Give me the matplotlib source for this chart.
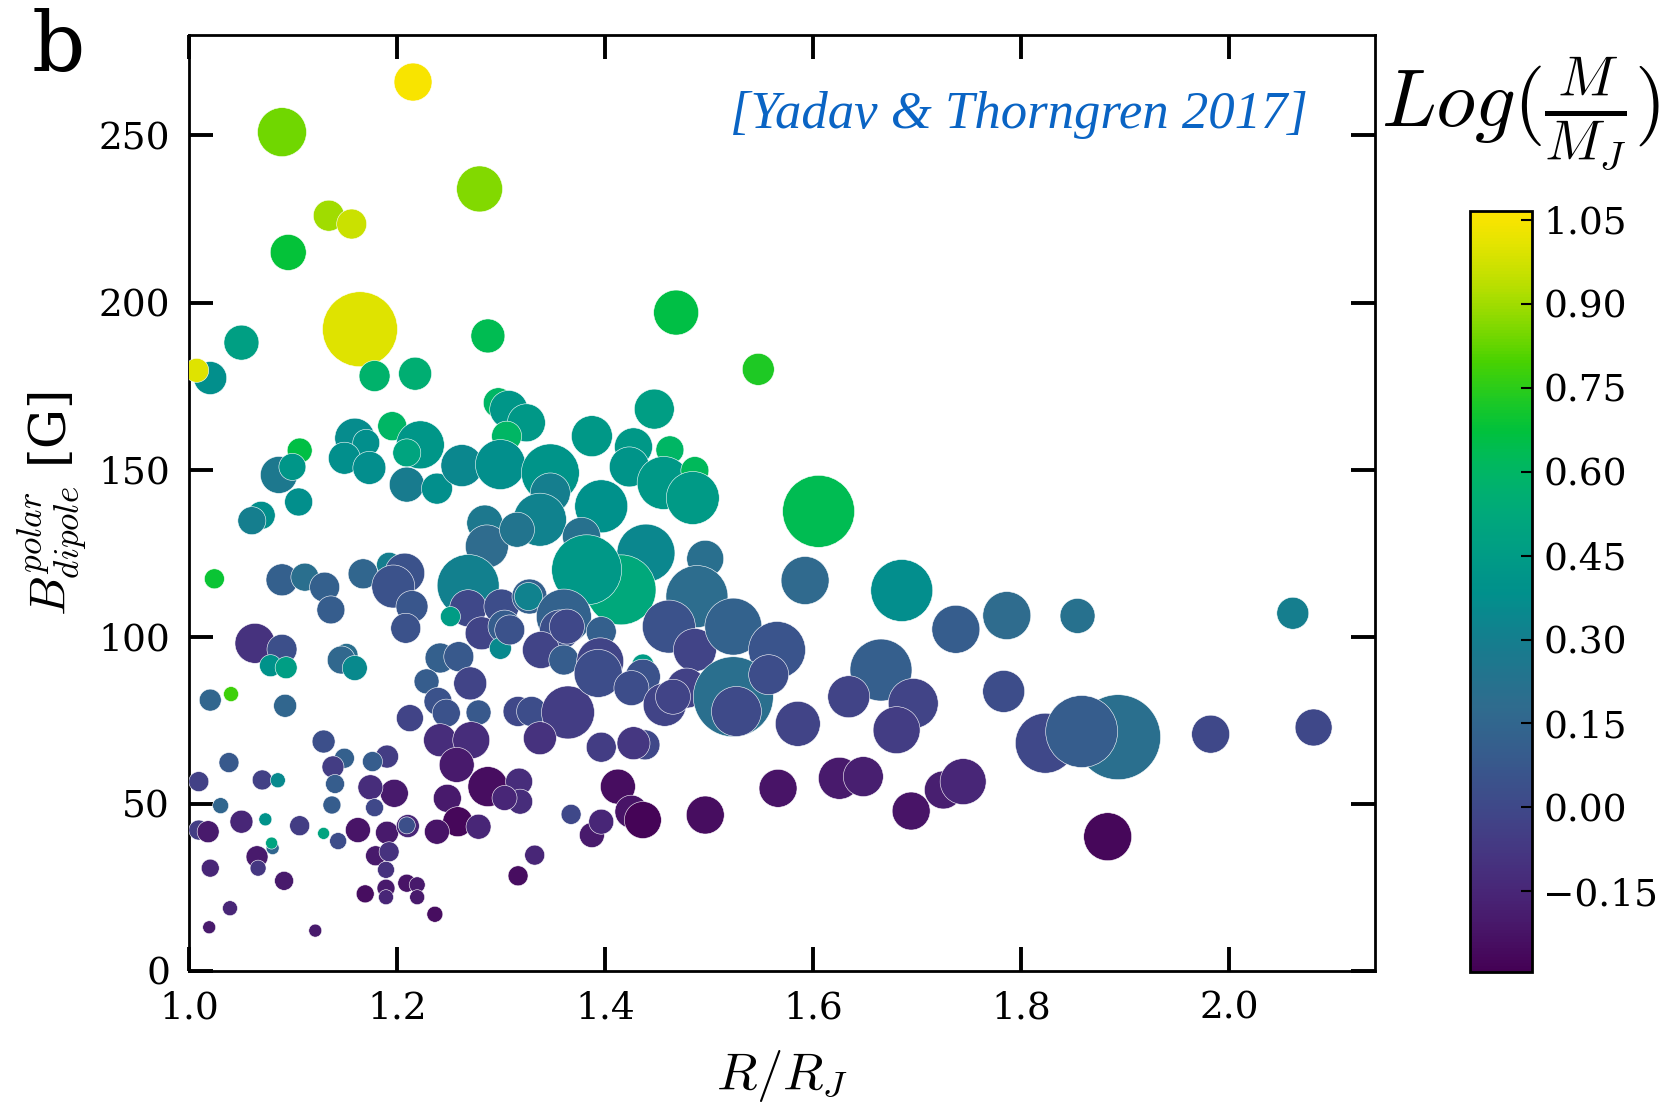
import numpy as np
import matplotlib
matplotlib.use("Agg")
import matplotlib.pyplot as plt
from matplotlib.colors import ListedColormap, rgb_to_hsv, hsv_to_rgb

plt.rcParams['font.family'] = 'serif'
plt.rcParams['font.serif'] = ['DejaVu Serif']
plt.rcParams['mathtext.fontset'] = 'cm'

# planet radius (R_J), polar dipole field (G), log mass (M_J), dot size
radius = [1.215, 1.089, 1.279, 1.134, 1.156, 1.095, 1.164, 1.050, 1.287, 1.217,
          1.178, 1.020, 1.007, 1.468, 1.547, 1.605,
          1.297, 1.307, 1.324, 1.305, 1.387, 1.195, 1.222, 1.209, 1.159, 1.170,
          1.149, 1.173, 1.106, 1.086, 1.099, 1.209, 1.238, 1.262, 1.299, 1.347,
          1.347, 1.337, 1.105, 1.069, 1.060, 1.284, 1.286, 1.315, 1.447, 1.427,
          1.462, 1.423, 1.456, 1.486, 1.484, 1.396, 1.377, 1.439, 1.415, 1.382,
          1.496, 1.488, 1.592, 1.685, 1.737, 1.665, 1.786, 1.854, 2.061,
          1.024, 1.089, 1.111, 1.130, 1.136, 1.167, 1.192, 1.207, 1.196, 1.214,
          1.208, 1.268, 1.268, 1.300, 1.281, 1.303, 1.327, 1.326, 1.360, 1.356,
          1.251, 1.063, 1.089, 1.299, 1.241, 1.259, 1.151, 1.146, 1.159, 1.078,
          1.093, 1.020, 1.040, 1.092, 1.228, 1.270, 1.239, 1.247, 1.278, 1.212,
          1.241, 1.271, 1.316, 1.329, 1.364, 1.337, 1.338, 1.360, 1.308, 1.396,
          1.363, 1.461, 1.486, 1.523, 1.565, 1.436, 1.395, 1.393, 1.436, 1.425,
          1.457, 1.478, 1.465, 1.504, 1.523, 1.526, 1.557, 1.585, 1.634, 1.696,
          1.680, 1.783, 1.893, 1.823, 1.858, 1.982, 2.081,
          1.396, 1.438, 1.427, 1.257, 1.287, 1.317, 1.318, 1.303, 1.248, 1.258,
          1.278, 1.238, 1.367, 1.387, 1.197, 1.174, 1.178, 1.190, 1.176, 1.149,
          1.138, 1.129, 1.140, 1.137, 1.038, 1.009, 1.070, 1.085, 1.030, 1.073,
          1.009, 1.018, 1.050, 1.106, 1.129, 1.143, 1.162, 1.190, 1.210, 1.209,
          1.179, 1.192, 1.080, 1.079, 1.065, 1.066, 1.020, 1.091, 1.189, 1.189,
          1.189, 1.169, 1.209, 1.219, 1.219, 1.236, 1.039, 1.019, 1.121, 1.332,
          1.316, 1.412, 1.425, 1.436, 1.396, 1.496, 1.566, 1.625, 1.648, 1.694,
          1.725, 1.744, 1.883]

bfield = [266, 251, 234, 226, 223.5, 215, 192, 188, 190, 178.7,
          178, 177.4, 179.7, 197, 180, 137.5,
          170, 168, 164, 160, 160, 163, 157.4, 155, 159.4, 158,
          153.4, 150.5, 155.7, 148.4, 150.8, 145.5, 144.3, 151.2, 151.5, 149,
          143, 135, 140.3, 136.3, 134.7, 134, 127, 132, 168.1, 156.8,
          155.9, 150.8, 146, 149.7, 141.5, 139, 130, 125, 114, 120,
          123.3, 112, 116.8, 113.8, 102.2, 90, 106.3, 106.2, 107,
          117.3, 117, 117.8, 114.8, 108, 118.8, 121.5, 119, 115, 109,
          102.5, 115.3, 108.5, 109, 101, 103, 112, 112, 106, 102,
          106, 98, 96.2, 96.5, 93.6, 94, 94.5, 93, 90.6, 91.3,
          90.7, 81, 82.8, 79.3, 86.6, 86, 80.6, 77.1, 77.3, 75.6,
          69, 69, 77.6, 77.6, 77.3, 69.6, 96, 93, 102, 101.5,
          103, 103, 96, 103, 96, 91.5, 92.6, 89, 88, 84.6,
          79.6, 84.6, 82, 85, 82, 77.6, 88.6, 73.9, 82, 80,
          72, 83.6, 69.9, 68.1, 71.6, 70.8, 72.8,
          66.9, 67.6, 68.1, 61.6, 55.1, 56.6, 50.6, 51.7, 51.6, 44.6,
          43.1, 41.6, 46.8, 40.6, 53.1, 54.9, 48.8, 64.1, 62.6, 63.6,
          61, 68.6, 55.9, 49.6, 62.3, 56.6, 57.1, 57, 49.4, 45.3,
          42.1, 41.6, 44.6, 43.4, 41.1, 38.8, 42.1, 41.3, 43.3, 43.5,
          34.4, 35.6, 36.7, 38.2, 34.1, 30.7, 30.7, 26.9, 30.2, 24.7,
          22, 23, 26.2, 25.7, 22, 16.9, 18.7, 13, 12, 34.6,
          28.4, 55.1, 47.6, 45.1, 44.6, 46.6, 54.6, 57.6, 58.1, 47.8,
          54.1, 56.6, 40.1]

logmass = [1.05, 0.84, 0.86, 0.90, 0.96, 0.68, 1.00, 0.47, 0.64, 0.56,
           0.58, 0.38, 1.00, 0.66, 0.73, 0.64,
           0.60, 0.42, 0.43, 0.60, 0.43, 0.60, 0.42, 0.50, 0.36, 0.38,
           0.38, 0.37, 0.66, 0.26, 0.42, 0.28, 0.38, 0.34, 0.38, 0.41,
           0.30, 0.32, 0.38, 0.38, 0.30, 0.26, 0.18, 0.24, 0.46, 0.43,
           0.60, 0.41, 0.43, 0.62, 0.44, 0.39, 0.22, 0.34, 0.52, 0.43,
           0.21, 0.19, 0.17, 0.37, 0.10, 0.11, 0.18, 0.22, 0.30,
           0.69, 0.12, 0.20, 0.12, 0.10, 0.15, 0.30, 0.05, 0.05, 0.07,
           0.05, 0.31, 0.00, 0.02, -0.02, 0.10, 0.12, 0.32, 0.13, 0.03,
           0.45, -0.10, 0.03, 0.35, 0.12, 0.08, 0.20, 0.16, 0.35, 0.40,
           0.46, 0.15, 0.78, 0.15, 0.10, -0.02, 0.05, 0.05, 0.08, -0.02,
           -0.12, -0.12, 0.00, 0.02, -0.05, -0.10, -0.02, 0.10, 0.05, 0.12,
           0.00, 0.05, -0.02, 0.13, 0.06, 0.45, -0.02, 0.02, 0.05, 0.02,
           -0.02, -0.03, -0.02, -0.02, 0.20, 0.01, 0.02, -0.02, -0.02, -0.02,
           -0.05, 0.02, 0.20, 0.00, 0.10, 0.00, 0.00,
           -0.05, 0.00, -0.08, -0.20, -0.25, -0.12, -0.12, -0.15, -0.20, -0.27,
           -0.15, -0.22, 0.00, -0.20, -0.20, -0.12, 0.00, -0.05, 0.10, 0.12,
           -0.05, 0.03, 0.10, 0.10, 0.08, -0.03, -0.03, 0.35, 0.15, 0.40,
           -0.05, -0.20, -0.15, -0.05, 0.50, 0.02, -0.22, -0.20, -0.15, 0.03,
           -0.20, -0.10, 0.15, 0.50, -0.20, -0.08, -0.15, -0.20, -0.10, -0.20,
           -0.15, -0.25, -0.22, -0.20, -0.20, -0.25, -0.15, -0.20, -0.20, -0.15,
           -0.25, -0.25, -0.22, -0.28, -0.15, -0.25, -0.22, -0.20, -0.18, -0.22,
           -0.18, -0.15, -0.27]

dotsize = [38, 49, 46, 31, 30, 36, 75, 35, 34, 33,
           31, 33, 24, 45, 32, 72,
           30, 38, 38, 30, 41, 29, 48, 28, 40, 27,
           32, 33, 25, 37, 27, 35, 31, 42, 50, 58,
           40, 53, 28, 28, 28, 36, 43, 35, 40, 38,
           28, 40, 53, 28, 53, 53, 38, 58, 70, 70,
           37, 62, 48, 62, 48, 62, 48, 35, 32,
           20, 32, 28, 30, 28, 30, 25, 40, 43, 32,
           30, 62, 37, 35, 33, 33, 35, 28, 55, 40,
           20, 40, 30, 22, 30, 30, 23, 28, 25, 22,
           22, 22, 15, 23, 25, 33, 28, 28, 25, 27,
           33, 37, 30, 30, 53, 33, 37, 30, 30, 30,
           35, 53, 43, 57, 57, 22, 47, 48, 35, 35,
           43, 40, 35, 35, 80, 50, 40, 45, 42, 50,
           47, 42, 85, 60, 72, 38, 37,
           30, 30, 33, 35, 40, 27, 25, 25, 28, 30,
           25, 25, 20, 25, 28, 25, 18, 23, 20, 20,
           22, 23, 19, 18, 20, 20, 20, 15, 16, 13,
           20, 22, 23, 20, 12, 17, 25, 23, 23, 17,
           20, 20, 13, 12, 22, 16, 18, 19, 17, 18,
           15, 18, 18, 16, 15, 16, 15, 13, 13, 20,
           20, 35, 33, 37, 25, 38, 38, 42, 40, 38,
           38, 46, 48]

x = np.array(radius)
y = np.array(bfield)
c = np.array(logmass)
s = (np.array(dotsize) * 0.72) ** 2

# viridis with the green/yellow half pushed to full saturation
t = np.linspace(0, 1, 256)
base = plt.get_cmap('viridis')(t)[:, :3]
hsv = rgb_to_hsv(base)
boost = 1 + 0.6 * np.clip((t - 0.35) / 0.3, 0, 1)
hsv[:, 1] = np.clip(hsv[:, 1] * boost, 0, 1)
cmap = ListedColormap(hsv_to_rgb(hsv))

fig = plt.figure(figsize=(16.78, 11.09), dpi=100)
ax = fig.add_axes([0.1129, 0.1247, 0.7065, 0.8435])
sc = ax.scatter(x, y, c=c, s=s, cmap=cmap, vmin=-0.294, vmax=1.065,
                edgecolors='white', linewidths=0.4, zorder=3)

ax.set_xlim(1.0, 2.14)
ax.set_ylim(0, 280)
ax.set_xticks([1.0, 1.2, 1.4, 1.6, 1.8, 2.0])
ax.set_yticks([0, 50, 100, 150, 200, 250])
ax.tick_params(direction='in', length=17, width=2.8, labelsize=27,
               top=True, right=True, pad=14)
for sp in ax.spines.values():
    sp.set_linewidth(2)

ax.set_xlabel(r'$R/R_J$', fontsize=38, labelpad=16)
ax.set_ylabel(r'$B^{polar}_{dipole}$ [G]', fontsize=36, labelpad=6)

ax.text(0.943, 0.915, '[Yadav & Thorngren 2017]', transform=ax.transAxes,
        ha='right', va='center', fontsize=38, style='italic',
        family='Liberation Serif', color='#0a64c4')

fig.text(0.035, 0.957, 'b', fontsize=60, ha='center', va='center')

cax = fig.add_axes([0.876, 0.1235, 0.037, 0.686])
cb = fig.colorbar(sc, cax=cax)
cb.set_ticks([1.05, 0.90, 0.75, 0.60, 0.45, 0.30, 0.15, 0.00, -0.15])
cb.ax.yaxis.set_major_formatter(matplotlib.ticker.FuncFormatter(
    lambda v, p: ('\u2212' if v < -1e-9 else '') + '%.2f' % abs(v)))
cb.ax.tick_params(direction='in', length=8, width=1.5, labelsize=27, pad=8)
cb.outline.set_linewidth(2)
fig.text(0.906, 0.897, r'$Log(\frac{M}{M_J})$', fontsize=58, ha='center', va='center')

fig.savefig('out.png', dpi=100)
